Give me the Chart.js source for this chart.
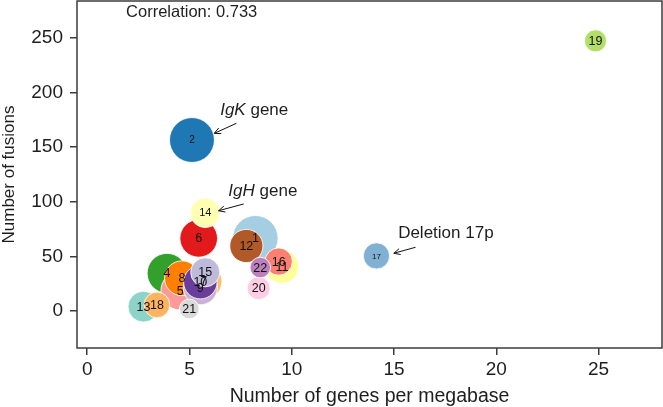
<!DOCTYPE html>
<html>
<head>
<meta charset="utf-8">
<script src="https://cdn.jsdelivr.net/npm/chart.js@4.4.1/dist/chart.umd.min.js"></script>
<style>
    html, body { margin: 0; padding: 0; background: #ffffff; }
</style>
</head>
<body>
<canvas id="fusionChart" width="663" height="407"></canvas>
<script>
// chromosome bubbles, drawn in this order (later ones on top)
const chromosomes = ['1', '2', '4', '5', '6', '7', '8', '9', '10', '11', '12', '13', '14', '15', '16', '17', '18', '19', '20', '21', '22'];
const genesPerMb = [8.22, 5.12, 3.9, 4.55, 5.45, 5.7, 4.63, 5.53, 5.53, 9.52, 7.78, 2.75, 5.77, 5.77, 9.36, 14.14, 3.41, 24.85, 8.38, 4.99, 8.46];
const fusionCounts = [66.6, 156.6, 34.5, 18.6, 66.5, 27, 29.9, 21.3, 26.3, 40.6, 59.5, 3.9, 90, 35.4, 45.2, 50.4, 5.5, 247.5, 20.8, 1.8, 39.7];
const chromSizeMb = [249, 243, 191, 181, 171, 159, 146, 141, 135, 135, 133, 115, 107, 102, 90, 83, 80, 59, 64, 47, 51];
const chromColours = ['#A6CEE3', '#1F78B4', '#33A02C', '#FB9A99', '#E31A1C', '#FDBF6F', '#FF7F00', '#CAB2D6', '#6A3D9A', '#FFFF99', '#B15928',
    '#8DD3C7', '#FFFFB3', '#BEBADA', '#FB8072', '#80B1D3', '#FDB462', '#B3DE69', '#FCCDE5', '#D9D9D9', '#BC80BD'];

const xTicks = [0, 5, 10, 15, 20, 25];
const yTicks = [0, 50, 100, 150, 200, 250];
const correlationText = 'Correlation: 0.733';

const FONT = '"Liberation Sans", Arial, Helvetica, sans-serif';
const INK = '#1e1e1e';
const FRAME = '#3c3c3c';
const radiusPerRootMb = 1.44;

const labelSizeOverride = { '2': 10, '14': 11, '17': 8 };

function drawArrow(ctx, x1, y1, x2, y2) {
    const angle = Math.atan2(y2 - y1, x2 - x1);
    const head = 7;
    ctx.beginPath();
    ctx.moveTo(x1, y1);
    ctx.lineTo(x2, y2);
    ctx.moveTo(x2, y2);
    ctx.lineTo(x2 - head * Math.cos(angle - 0.45), y2 - head * Math.sin(angle - 0.45));
    ctx.moveTo(x2, y2);
    ctx.lineTo(x2 - head * Math.cos(angle + 0.45), y2 - head * Math.sin(angle + 0.45));
    ctx.stroke();
}

function drawGeneNote(ctx, x, y, italicPart, rest) {
    ctx.font = 'italic 17px ' + FONT;
    ctx.fillText(italicPart, x, y);
    const w = ctx.measureText(italicPart).width;
    ctx.font = '17px ' + FONT;
    ctx.fillText(rest, x + w, y);
}

const annotationPlugin = {
    id: 'fusionAnnotations',
    afterDatasetsDraw(chart) {
        const ctx = chart.ctx;
        const xs = chart.scales.x;
        const ys = chart.scales.y;
        const meta = chart.getDatasetMeta(0);

        ctx.save();
        ctx.fillStyle = '#111';
        ctx.textAlign = 'center';
        ctx.textBaseline = 'middle';
        meta.data.forEach((el, i) => {
            const size = labelSizeOverride[chromosomes[i]] || 12.5;
            ctx.font = size + 'px ' + FONT;
            ctx.fillText(chromosomes[i], el.x, el.y + 0.5);
        });

        ctx.fillStyle = INK;
        ctx.strokeStyle = '#111';
        ctx.lineWidth = 1;
        ctx.textAlign = 'left';
        ctx.textBaseline = 'middle';

        drawGeneNote(ctx, xs.getPixelForValue(6.5), ys.getPixelForValue(184), 'IgK', ' gene');
        drawArrow(ctx, xs.getPixelForValue(7.29), ys.getPixelForValue(171.9), xs.getPixelForValue(6.21), ys.getPixelForValue(162.7));

        drawGeneNote(ctx, xs.getPixelForValue(6.9), ys.getPixelForValue(110), 'IgH', ' gene');
        drawArrow(ctx, xs.getPixelForValue(7.65), ys.getPixelForValue(98), xs.getPixelForValue(6.42), ys.getPixelForValue(91.8));

        ctx.font = '17px ' + FONT;
        ctx.fillText('Deletion 17p', xs.getPixelForValue(15.2), ys.getPixelForValue(71.4));
        drawArrow(ctx, xs.getPixelForValue(16.05), ys.getPixelForValue(58.3), xs.getPixelForValue(14.99), ys.getPixelForValue(52.8));

        ctx.font = '16.5px ' + FONT;
        ctx.fillText(correlationText, xs.getPixelForValue(1.9), ys.getPixelForValue(273.8));

        const area = chart.chartArea;
        ctx.strokeStyle = FRAME;
        ctx.lineWidth = 1.5;
        ctx.strokeRect(area.left, area.top, area.right - area.left, area.bottom - area.top);
        ctx.restore();
    }
};

const bubbles = chromosomes.map((c, i) => ({
    x: genesPerMb[i],
    y: fusionCounts[i],
    r: Math.sqrt(chromSizeMb[i]) * radiusPerRootMb
}));

new Chart(document.getElementById('fusionChart'), {
    type: 'bubble',
    data: {
        datasets: [{
            label: 'Chromosomes',
            data: bubbles,
            backgroundColor: chromColours,
            borderColor: 'rgba(255,255,255,0.85)',
            borderWidth: 1,
            hoverRadius: 0,
            clip: false
        }]
    },
    options: {
        responsive: false,
        animation: false,
        devicePixelRatio: 1,
        layout: { autoPadding: false, padding: { top: 1, right: 1, left: 0, bottom: 0 } },
        plugins: {
            legend: { display: false },
            tooltip: { enabled: false }
        },
        scales: {
            x: {
                type: 'linear',
                min: -0.5,
                max: 28.1,
                afterBuildTicks: (scale) => { scale.ticks = xTicks.map(v => ({ value: v })); },
                afterFit: (scale) => {
                    scale.height = 59;
                    scale.paddingLeft = 0;
                    scale.paddingRight = 0;
                },
                border: { display: false },
                grid: { drawOnChartArea: false, drawTicks: true, tickLength: 7, color: FRAME, lineWidth: 1.5 },
                ticks: { color: INK, font: { family: FONT, size: 19 }, padding: 3, maxRotation: 0 },
                title: {
                    display: true,
                    text: 'Number of genes per megabase',
                    color: INK,
                    font: { family: FONT, size: 19.5, lineHeight: 1 },
                    padding: { top: 0, bottom: 1 }
                }
            },
            y: {
                type: 'linear',
                min: -34,
                max: 284,
                afterBuildTicks: (scale) => { scale.ticks = yTicks.map(v => ({ value: v })); },
                afterFit: (scale) => {
                    scale.width = 77;
                    scale.paddingTop = 0;
                    scale.paddingBottom = 0;
                },
                border: { display: false },
                grid: { drawOnChartArea: false, drawTicks: true, tickLength: 7, color: FRAME, lineWidth: 1.5 },
                ticks: { color: INK, font: { family: FONT, size: 19 }, padding: 7 },
                title: {
                    display: true,
                    text: 'Number of fusions',
                    color: INK,
                    font: { family: FONT, size: 17, lineHeight: 1 },
                    padding: { top: 1, bottom: 0 }
                }
            }
        }
    },
    plugins: [annotationPlugin]
});
</script>
</body>
</html>
